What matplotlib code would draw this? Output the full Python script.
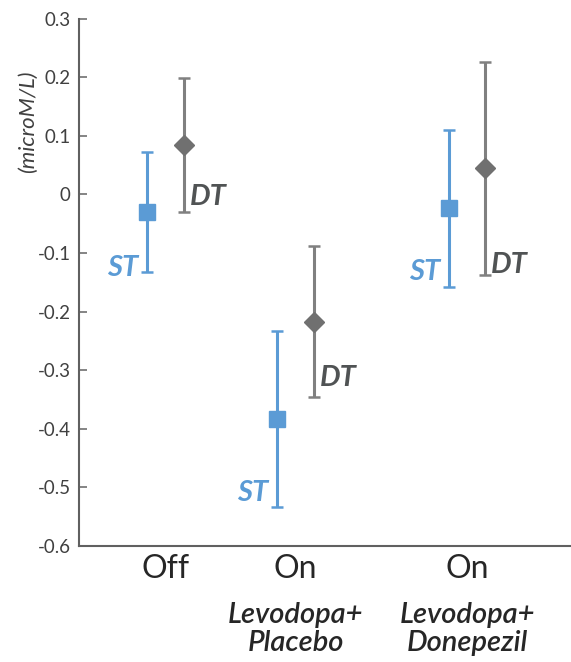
import matplotlib
matplotlib.use("Agg")
import matplotlib.pyplot as plt

cat_line1 = ["Off", "On", "On"]
cat_line2 = ["", "Levodopa+\nPlacebo", "Levodopa+\nDonepezil"]
cat_pos = [1.0, 2.0, 3.32]

st_mean = [-0.030, -0.383, -0.023]
st_upper = [0.072, -0.233, 0.110]
st_lower = [-0.132, -0.533, -0.158]

dt_mean = [0.084, -0.217, 0.045]
dt_upper = [0.199, -0.089, 0.226]
dt_lower = [-0.030, -0.345, -0.137]

st_label_y = [-0.125, -0.510, -0.132]
dt_label_y = [-0.004, -0.313, -0.120]

yticks = [0.3, 0.2, 0.1, 0, -0.1, -0.2, -0.3, -0.4, -0.5, -0.6]
ytick_labels = ["0.3", "0.2", "0.1", "0", "-0.1", "-0.2", "-0.3", "-0.4", "-0.5", "-0.6"]

BLUE = "#5b9bd5"
GRAY = "#808080"
DGRAY = "#707070"
TXT = "#404040"
DTTXT = "#505354"

plt.rcParams["font.family"] = ["Lato", "DejaVu Sans"]

fig = plt.figure(figsize=(5.71, 6.62), dpi=100)
ax = fig.add_axes([79/571, 116/662, 492/571, 527.5/662])

off = 0.142
st_x = [p - off for p in cat_pos]
dt_x = [p + off for p in cat_pos]

st_err = [[m - l for m, l in zip(st_mean, st_lower)], [u - m for m, u in zip(st_mean, st_upper)]]
dt_err = [[m - l for m, l in zip(dt_mean, dt_lower)], [u - m for m, u in zip(dt_mean, dt_upper)]]

ax.errorbar(st_x, st_mean, yerr=st_err, fmt="s", color=BLUE, ecolor=BLUE,
            markersize=11, elinewidth=2.2, capsize=4.5, capthick=1.8, zorder=3)
ax.errorbar(dt_x, dt_mean, yerr=dt_err, fmt="D", color=DGRAY, ecolor=GRAY,
            markersize=10, elinewidth=2.2, capsize=4.5, capthick=1.8, zorder=3)

for x, y in zip(st_x, st_label_y):
    ax.annotate("ST", (x, y), xytext=(-6, 0), textcoords="offset points",
                ha="right", va="center", color=BLUE, fontsize=21,
                fontweight="bold", fontstyle="italic")
for x, y in zip(dt_x, dt_label_y):
    ax.annotate("DT", (x, y), xytext=(4, 0), textcoords="offset points",
                ha="left", va="center", color=DTTXT, fontsize=21,
                fontweight="bold", fontstyle="italic")

ax.set_xlim(0.335, 4.12)
ax.set_ylim(-0.6, 0.3)
ax.set_yticks(yticks)
ax.set_yticklabels(ytick_labels)
ax.tick_params(axis="y", direction="in", length=6, width=1.2, color="#707070",
               labelsize=13.5, labelcolor=TXT, pad=6)
ax.set_xticks([])
for s in ["top", "right"]:
    ax.spines[s].set_visible(False)
for s in ["left", "bottom"]:
    ax.spines[s].set_color("#606060")
    ax.spines[s].set_linewidth(1.5)

for p, l1, l2 in zip(cat_pos, cat_line1, cat_line2):
    ax.annotate(l1, (p, -0.6), xytext=(0, -6), textcoords="offset points",
                ha="center", va="top", fontsize=23, color="#262626")
    if l2:
        ax.annotate(l2, (p, -0.6), xytext=(0, -40), textcoords="offset points",
                    ha="center", va="top", fontsize=21, color="#262626",
                    fontweight="semibold", fontstyle="italic", linespacing=1.12)

fig.text(28/571, 1 - 122/662, "(microM/L)", rotation=90, ha="center", va="center",
         fontsize=16, fontstyle="italic", color=TXT)

fig.savefig("out.png", dpi=100)
